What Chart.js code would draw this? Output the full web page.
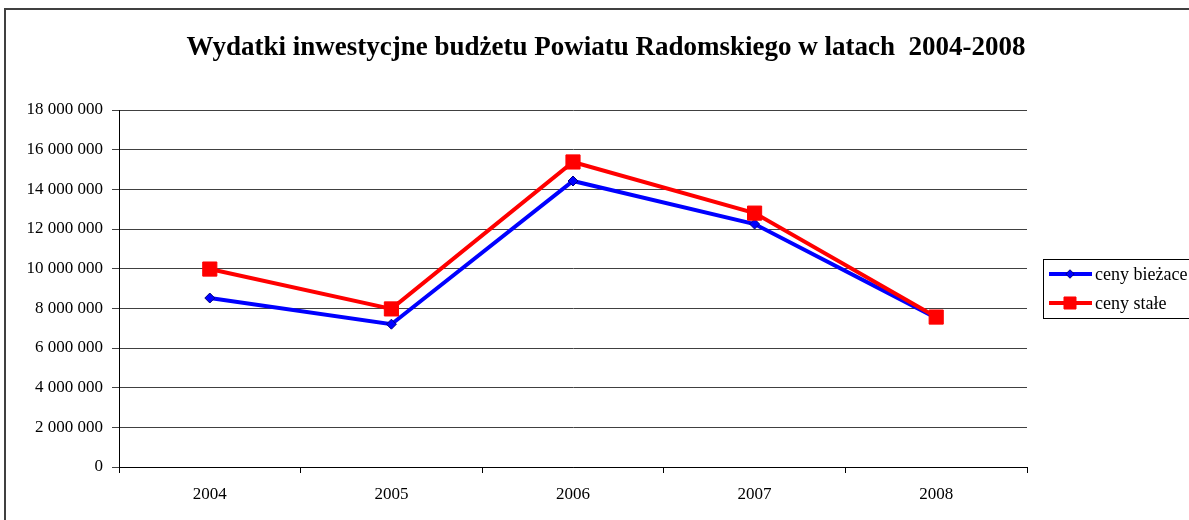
<!DOCTYPE html>
<html>
<head>
<meta charset="utf-8">
<script src="https://cdn.jsdelivr.net/npm/chart.js@4/dist/chart.umd.min.js"></script>
<style>
  body { margin: 0; background: #fff; overflow: hidden; }
  #wrap { position: relative; width: 1189px; height: 520px; }
</style>
</head>
<body>
<div id="wrap"><canvas id="chart" width="1189" height="520"></canvas></div>
<script>
const years = ['2004', '2005', '2006', '2007', '2008'];
const cenyBiezace = [8520000, 7200000, 14420000, 12250000, 7520000];
const cenyStale = [9980000, 7970000, 15380000, 12800000, 7560000];
const yTicks = [0, 2000000, 4000000, 6000000, 8000000, 10000000, 12000000, 14000000, 16000000, 18000000];
const chartTitle = 'Wydatki inwestycjne budżetu Powiatu Radomskiego w latach  2004-2008';

const serif = '"Liberation Serif", "Times New Roman", serif';

function fmt(v) {
    return String(v).replace(/\B(?=(\d{3})+(?!\d))/g, ' ');
}

// frame, title and the clipped legend box on the right
const decorations = {
    id: 'decorations',
    beforeDraw(chart) {
        const ctx = chart.ctx;
        ctx.save();
        ctx.fillStyle = '#fff';
        ctx.fillRect(0, 0, chart.width, chart.height);
        ctx.strokeStyle = '#404040';
        ctx.lineWidth = 2;
        ctx.strokeRect(5, 9, 1300, 600);
        ctx.restore();
    },
    afterDraw(chart) {
        const ctx = chart.ctx;
        ctx.save();
        ctx.fillStyle = '#000';
        ctx.font = 'bold 27px ' + serif;
        ctx.textAlign = 'center';
        ctx.textBaseline = 'alphabetic';
        ctx.fillText(chartTitle, 606, 55);

        // legend
        ctx.strokeStyle = '#000';
        ctx.lineWidth = 1;
        ctx.strokeRect(1043.5, 259.5, 200, 59);
        chart.data.datasets.forEach((ds, i) => {
            const y = 274 + i * 29;
            ctx.strokeStyle = ds.borderColor;
            ctx.lineWidth = 4;
            ctx.beginPath();
            ctx.moveTo(1049, y);
            ctx.lineTo(1092, y);
            ctx.stroke();
            ctx.fillStyle = ds.pointBackgroundColor;
            ctx.strokeStyle = ds.pointBorderColor;
            ctx.lineWidth = 1;
            Chart.helpers.drawPoint(ctx, {
                pointStyle: ds.pointStyle,
                radius: ds.pointRadius * 0.85,
                rotation: 0,
                borderWidth: 1
            }, 1070, y);
            ctx.fillStyle = '#000';
            ctx.font = '18px ' + serif;
            ctx.textAlign = 'left';
            ctx.textBaseline = 'middle';
            ctx.fillText(ds.label, 1095, y + 1);
        });
        ctx.restore();
    }
};

new Chart(document.getElementById('chart'), {
    type: 'line',
    data: {
        labels: years,
        datasets: [
            {
                label: 'ceny bieżace',
                data: cenyBiezace,
                order: 1,
                borderColor: '#0000ff',
                backgroundColor: '#0000ff',
                borderWidth: 4,
                pointStyle: 'rectRot',
                pointRadius: 5,
                pointBackgroundColor: '#0000ff',
                pointBorderColor: '#000080',
                pointBorderWidth: 1,
                tension: 0
            },
            {
                label: 'ceny stałe',
                data: cenyStale,
                order: 0,
                borderColor: '#ff0000',
                backgroundColor: '#ff0000',
                borderWidth: 4,
                pointStyle: 'rect',
                pointRadius: 10,
                pointBackgroundColor: '#ff0000',
                pointBorderColor: '#ff0000',
                pointBorderWidth: 1,
                tension: 0
            }
        ]
    },
    options: {
        responsive: false,
        animation: false,
        layout: { padding: { left: 0, right: 162, top: 110, bottom: 0 } },
        plugins: {
            legend: { display: false },
            title: { display: false },
            tooltip: { enabled: false }
        },
        scales: {
            x: {
                offset: true,
                afterFit(scale) { scale.height = 53; },
                grid: {
                    offset: true,
                    drawOnChartArea: false,
                    tickLength: 6,
                    color: '#000'
                },
                border: { color: '#000', width: 1 },
                ticks: {
                    color: '#000',
                    padding: 11,
                    font: { family: serif, size: 17 }
                }
            },
            y: {
                min: 0,
                max: 18000000,
                afterFit(scale) { scale.width = 119; },
                afterBuildTicks(scale) {
                    scale.ticks = yTicks.map(v => ({ value: v }));
                },
                grid: {
                    color: '#404040',
                    tickLength: 7,
                    lineWidth: 1
                },
                border: { color: '#000', width: 1 },
                ticks: {
                    color: '#000',
                    padding: 9,
                    font: { family: serif, size: 17 },
                    callback: v => fmt(v)
                }
            }
        }
    },
    plugins: [decorations]
});
</script>
</body>
</html>
